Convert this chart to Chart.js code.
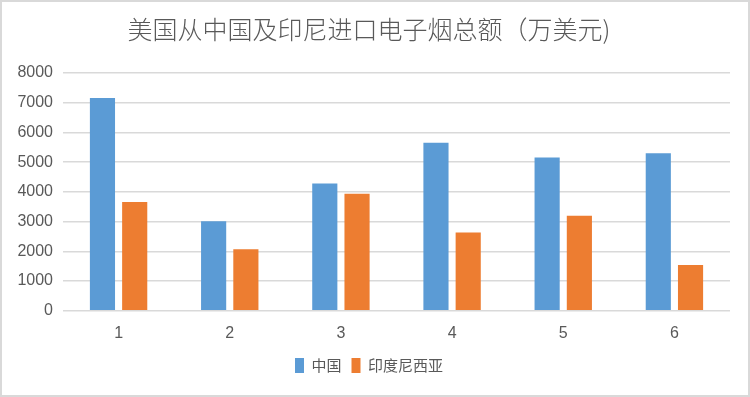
<!DOCTYPE html>
<html>
<head>
<meta charset="utf-8">
<script src="https://cdn.jsdelivr.net/npm/chart.js@4.4.0/dist/chart.umd.min.js"></script>
<style>
  html, body { margin: 0; padding: 0; background: #fff; }
  #wrap { position: relative; width: 746px; height: 393px; border: 2px solid #d9d9d9; }
</style>
</head>
<body>
<div id="wrap"><canvas id="barChart" width="746" height="393"></canvas></div>
<script>
const categories = ['1', '2', '3', '4', '5', '6'];
const chinaValues = [7160, 3010, 4280, 5650, 5160, 5300];
const indonesiaValues = [3660, 2070, 3940, 2630, 3200, 1540];
const yTicks = [0, 1000, 2000, 3000, 4000, 5000, 6000, 7000, 8000];

const textColor = '#595959';
const ctx = document.getElementById('barChart').getContext('2d');

new Chart(ctx, {
    type: 'bar',
    data: {
        labels: categories,
        datasets: [
            {
                label: '中国',
                data: chinaValues,
                backgroundColor: '#5b9bd5',
                categoryPercentage: 0.58,
                barPercentage: 0.78
            },
            {
                label: '印度尼西亚',
                data: indonesiaValues,
                backgroundColor: '#ed7d31',
                categoryPercentage: 0.58,
                barPercentage: 0.78
            }
        ]
    },
    options: {
        responsive: false,
        animation: false,
        layout: { padding: { left: 6, right: 18, top: 4, bottom: 12 } },
        plugins: {
            title: {
                display: true,
                text: '美国从中国及印尼进口电子烟总额（万美元)',
                color: textColor,
                font: { family: '"Noto Sans CJK SC", sans-serif', size: 25, weight: 300 },
                padding: { top: 8, bottom: 29 }
            },
            legend: {
                display: true,
                position: 'bottom',
                labels: {
                    color: textColor,
                    boxWidth: 9,
                    boxHeight: 15,
                    padding: 10,
                    font: { family: '"Noto Sans CJK SC", sans-serif', size: 15 }
                }
            },
            tooltip: { enabled: false }
        },
        scales: {
            x: {
                grid: { display: false },
                border: { display: false },
                ticks: { color: textColor, padding: 5, font: { family: '"Liberation Sans", sans-serif', size: 16 } }
            },
            y: {
                min: 0,
                max: 8000,
                afterBuildTicks: axis => { axis.ticks = yTicks.map(v => ({ value: v })); },
                afterFit: axis => { axis.width = 55; },
                grid: { color: '#d9d9d9', lineWidth: 1.5, drawTicks: false },
                border: { display: false },
                ticks: {
                    color: textColor,
                    padding: 10,
                    callback: v => String(v),
                    font: { family: '"Liberation Sans", sans-serif', size: 16 }
                }
            }
        }
    }
});
</script>
</body>
</html>
